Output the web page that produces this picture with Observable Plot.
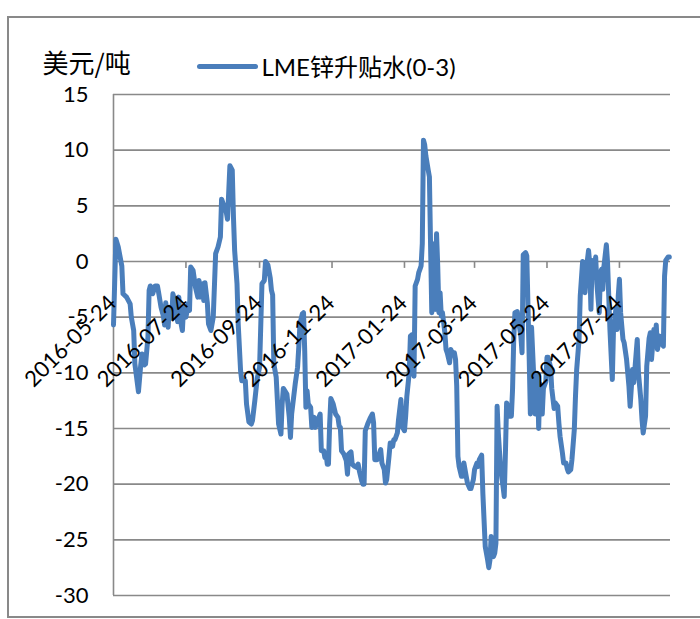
<!DOCTYPE html>
<html><head><meta charset="utf-8">
<script src="https://cdn.jsdelivr.net/npm/d3@7"></script>
<script src="https://cdn.jsdelivr.net/npm/@observablehq/plot@0.6"></script>
<style>
html,body{margin:0;padding:0;background:#fff;width:700px;height:619px;overflow:hidden;}
#wrap{position:relative;width:700px;height:619px;}
#wrap svg{position:absolute;left:0;top:0;background:transparent;}
#border{position:absolute;left:7px;top:16px;width:720px;height:602px;border:2px solid #898989;box-sizing:border-box;pointer-events:none;}
#swatch{position:absolute;left:197px;top:63.5px;width:61px;height:5.5px;border-radius:3px;background:#4A7EBB;}
</style>
</head><body>
<div id="wrap"><div id="border"></div><div id="swatch"></div></div>
<script>
const unitLabel = "美元/吨";
const seriesName = "LME锌升贴水(0-3)";
const yTicks = [-30, -25, -20, -15, -10, -5, 0, 5, 10, 15];
const xTickLabels = ["2016-05-24","2016-07-24","2016-09-24","2016-11-24","2017-01-24","2017-03-24","2017-05-24","2017-07-24"];
const xDomain = ["2016-05-24", "2017-09-05"];

const dates = [
"2016-05-24","2016-05-26","2016-05-28","2016-05-31","2016-06-01","2016-06-04","2016-06-07","2016-06-08","2016-06-10","2016-06-11",
"2016-06-14","2016-06-16","2016-06-17","2016-06-19","2016-06-20","2016-06-22","2016-06-23","2016-06-24","2016-06-26","2016-06-28",
"2016-06-30","2016-07-01","2016-07-03","2016-07-05","2016-07-06","2016-07-07","2016-07-09","2016-07-10","2016-07-12","2016-07-13",
"2016-07-15","2016-07-17","2016-07-18","2016-07-19","2016-07-21","2016-07-22","2016-07-24","2016-07-26","2016-07-27","2016-07-28",
"2016-07-30","2016-08-01","2016-08-03","2016-08-04","2016-08-05","2016-08-07","2016-08-08","2016-08-09","2016-08-11","2016-08-12",
"2016-08-14","2016-08-16","2016-08-18","2016-08-20","2016-08-22","2016-08-23","2016-08-25","2016-08-27","2016-08-28","2016-08-30",
"2016-09-01","2016-09-02","2016-09-03","2016-09-05","2016-09-06","2016-09-08","2016-09-09","2016-09-12","2016-09-13","2016-09-15",
"2016-09-17","2016-09-18","2016-09-20","2016-09-22","2016-09-24","2016-09-26","2016-09-28","2016-09-29","2016-10-01","2016-10-03",
"2016-10-04","2016-10-05","2016-10-06","2016-10-08","2016-10-09","2016-10-10","2016-10-12","2016-10-13","2016-10-14","2016-10-17",
"2016-10-19","2016-10-20","2016-10-21","2016-10-23","2016-10-24","2016-10-26","2016-10-27","2016-10-28","2016-10-30","2016-10-31",
"2016-11-01","2016-11-02","2016-11-03","2016-11-04","2016-11-06","2016-11-07","2016-11-09","2016-11-10","2016-11-11","2016-11-13",
"2016-11-14","2016-11-15","2016-11-17","2016-11-18","2016-11-19","2016-11-20","2016-11-21","2016-11-22","2016-11-23","2016-11-25",
"2016-11-27","2016-11-29","2016-11-30","2016-12-01","2016-12-02","2016-12-04","2016-12-06","2016-12-07","2016-12-08","2016-12-10",
"2016-12-11","2016-12-13","2016-12-15","2016-12-16","2016-12-17","2016-12-19","2016-12-20","2016-12-21","2016-12-22","2016-12-24",
"2016-12-26","2016-12-28","2016-12-29","2016-12-30","2017-01-01","2017-01-02","2017-01-04","2017-01-05","2017-01-07","2017-01-08",
"2017-01-09","2017-01-11","2017-01-12","2017-01-14","2017-01-15","2017-01-16","2017-01-18","2017-01-19","2017-01-21","2017-01-22",
"2017-01-24","2017-01-25","2017-01-26","2017-01-28","2017-01-29","2017-01-30","2017-01-31","2017-02-01","2017-02-02","2017-02-04",
"2017-02-05","2017-02-06","2017-02-07","2017-02-08","2017-02-09","2017-02-10","2017-02-11","2017-02-13","2017-02-14","2017-02-15",
"2017-02-16","2017-02-17","2017-02-18","2017-02-19","2017-02-20","2017-02-21","2017-02-22","2017-02-23","2017-02-24","2017-02-25",
"2017-02-27","2017-02-28","2017-03-01","2017-03-03","2017-03-04","2017-03-06","2017-03-07","2017-03-08","2017-03-09","2017-03-10",
"2017-03-11","2017-03-13","2017-03-14","2017-03-15","2017-03-17","2017-03-18","2017-03-20","2017-03-21","2017-03-23","2017-03-24",
"2017-03-26","2017-03-27","2017-03-28","2017-03-30","2017-03-31","2017-04-01","2017-04-02","2017-04-04","2017-04-05","2017-04-06",
"2017-04-07","2017-04-08","2017-04-09","2017-04-10","2017-04-11","2017-04-12","2017-04-13","2017-04-15","2017-04-17","2017-04-18",
"2017-04-19","2017-04-20","2017-04-21","2017-04-22","2017-04-24","2017-04-25","2017-04-26","2017-04-27","2017-04-29","2017-04-30",
"2017-05-02","2017-05-03","2017-05-04","2017-05-06","2017-05-07","2017-05-09","2017-05-10","2017-05-11","2017-05-13","2017-05-14",
"2017-05-16","2017-05-17","2017-05-18","2017-05-20","2017-05-21","2017-05-23","2017-05-24","2017-05-25","2017-05-27","2017-05-28",
"2017-05-30","2017-05-31","2017-06-02","2017-06-03","2017-06-04","2017-06-06","2017-06-07","2017-06-09","2017-06-10","2017-06-11",
"2017-06-13","2017-06-14","2017-06-16","2017-06-17","2017-06-18","2017-06-20","2017-06-21","2017-06-23","2017-06-24","2017-06-25",
"2017-06-27","2017-06-28","2017-06-29","2017-06-30","2017-07-01","2017-07-02","2017-07-04","2017-07-05","2017-07-07","2017-07-08",
"2017-07-09","2017-07-10","2017-07-11","2017-07-13","2017-07-14","2017-07-15","2017-07-16","2017-07-18","2017-07-19","2017-07-21",
"2017-07-22","2017-07-23","2017-07-24","2017-07-25","2017-07-27","2017-07-28","2017-07-30","2017-07-31","2017-08-01","2017-08-02",
"2017-08-04","2017-08-05","2017-08-06","2017-08-08","2017-08-09","2017-08-11","2017-08-12","2017-08-13","2017-08-15","2017-08-16",
"2017-08-18","2017-08-19","2017-08-20","2017-08-22","2017-08-23","2017-08-24","2017-08-25","2017-08-27","2017-08-28","2017-08-30",
"2017-08-31","2017-09-01","2017-09-03","2017-09-04"
];
const values = [
-5.7,2.0,1.3,-0.4,-2.9,-3.2,-3.8,-5.0,-6.2,-9.2,
-11.7,-9.2,-8.3,-9.3,-9.2,-6.8,-2.6,-2.2,-2.9,-2.2,
-2.2,-2.8,-4.1,-4.9,-5.7,-3.7,-5.9,-4.1,-5.1,-2.9,
-3.7,-5.4,-3.2,-5.1,-6.2,-4.1,-5.0,-3.8,-4.4,-0.5,
-0.8,-2.3,-3.2,-1.7,-3.2,-2.0,-3.5,-1.9,-3.7,-5.6,
-6.2,-5.0,0.7,1.3,2.2,5.6,5.0,4.4,3.8,8.6,
8.2,4.0,1.0,-2.0,-5.6,-9.8,-10.7,-10.7,-12.8,-14.4,
-14.6,-14.3,-12.5,-10.5,-9.5,-2.0,-1.7,0.0,-0.3,-1.5,
-2.6,-3.0,-9.2,-10.4,-12.5,-14.6,-15.5,-12.8,-11.4,-11.9,
-14.0,-15.8,-13.7,-11.9,-11.0,-9.5,-7.7,-5.6,-4.7,-4.6,
-8.0,-13.1,-11.6,-12.8,-13.1,-14.9,-14.0,-14.9,-14.3,-14.0,
-13.7,-17.0,-17.0,-17.6,-17.3,-18.2,-18.2,-14.6,-12.3,-12.8,
-13.7,-14.0,-14.8,-14.9,-17.0,-17.3,-17.9,-19.1,-17.3,-17.1,
-18.2,-18.4,-18.5,-18.2,-18.8,-19.7,-20.0,-20.0,-15.2,-14.6,
-14.1,-13.7,-14.5,-17.8,-17.8,-17.5,-16.9,-18.1,-18.7,-19.9,
-19.6,-17.5,-16.3,-16.6,-16.0,-16.0,-15.4,-14.2,-12.4,-14.8,
-15.2,-13.9,-12.1,-10.0,-6.7,-6.6,-6.8,-10.3,-2.2,-1.6,
-1.0,-0.7,-0.4,1.6,10.9,10.5,9.5,8.2,7.6,1.3,
-4.6,1.6,-3.1,-4.3,2.5,-0.4,-4.6,-2.8,-4.9,-4.6,
-6.4,-7.9,-8.2,-9.1,-7.9,-8.4,-8.2,-8.8,-11.2,-17.5,
-18.4,-19.3,-19.3,-18.1,-19.3,-19.9,-20.4,-20.4,-19.6,-18.7,
-18.1,-18.4,-17.8,-17.4,-20.8,-23.2,-25.6,-26.8,-27.5,-26.8,
-24.7,-26.3,-26.5,-26.2,-25.3,-13.0,-15.4,-18.7,-20.2,-21.1,
-17.2,-12.7,-13.0,-13.9,-13.9,-11.5,-7.0,-4.6,-4.5,-5.3,
-6.7,-8.2,0.6,0.8,0.5,-8.6,-13.7,-5.9,-10.7,-13.7,
-10.2,-15.0,-11.0,-13.7,-11.4,-10.8,-8.6,-8.6,-9.5,-11.4,
-13.2,-12.7,-13.0,-14.5,-15.7,-17.2,-18.1,-18.1,-18.6,-18.9,
-18.7,-17.8,-15.1,-12.1,-9.7,-7.0,-3.1,0.0,-0.1,-2.8,
0.1,1.0,-0.2,-4.3,0.1,-1.4,0.4,-2.0,-4.6,-1.0,
-0.7,-2.5,-0.4,1.5,-0.1,-3.1,-6.1,-10.6,-6.1,-4.3,
-6.1,-3.1,-1.6,-4.6,-7.0,-7.3,-8.8,-10.0,-11.2,-13.0,
-9.7,-10.9,-9.7,-7.0,-10.0,-12.4,-14.2,-15.4,-13.9,-9.4,
-6.9,-6.4,-8.8,-6.1,-7.3,-5.7,-7.9,-6.7,-7.3,-7.6,
-1.3,0.1,0.4,0.4
];

const parse = s => new Date(s + "T00:00:00Z");
const data = dates.map((d, i) => ({date: parse(d), value: values[i]}));
const tickData = xTickLabels.map(s => ({date: parse(s), label: s}));

const gridColor = "#898989";
const latin = "Lato, 'Noto Sans CJK SC', sans-serif";

const chart = Plot.plot({
  width: 700,
  height: 619,
  marginLeft: 113,
  marginRight: 30,
  marginTop: 94,
  marginBottom: 24,
  style: {background: "transparent", fontFamily: latin, color: "#000"},
  x: {type: "utc", domain: xDomain.map(parse), axis: null},
  y: {domain: [-30, 15], axis: null},
  marks: [
    Plot.ruleY(yTicks, {stroke: gridColor, strokeWidth: 1.6}),
    Plot.ruleX([parse(xDomain[0])], {stroke: gridColor, strokeWidth: 1.6}),
    Plot.ruleX(tickData.slice(1), {x: "date", y1: 0, y2: -0.62, stroke: gridColor, strokeWidth: 1.6}),
    Plot.line(data, {x: "date", y: "value", stroke: "#4A7EBB", strokeWidth: 5, strokeLinejoin: "round", strokeLinecap: "round"}),
    Plot.text(yTicks, {y: d => d, text: d => String(d), frameAnchor: "left", textAnchor: "end", dx: -25, fontSize: 22, fill: "#000"}),
    Plot.text(tickData, {x: "date", y: 0, text: "label", rotate: -45, textAnchor: "end", lineAnchor: "bottom", dx: 4, dy: 43, fontSize: 22, fill: "#000"}),
    Plot.text([unitLabel], {text: d => d, frameAnchor: "top-left", textAnchor: "start", lineAnchor: "bottom", dx: -71, dy: -22, fontSize: 26, fontFamily: "'Noto Sans CJK SC', sans-serif", fill: "#000"}),
    Plot.text([seriesName], {text: d => d, frameAnchor: "top-left", textAnchor: "start", lineAnchor: "bottom", dx: 148, dy: -19, fontSize: 24, fill: "#000"})
  ]
});
document.getElementById("wrap").prepend(chart);
</script>
</body></html>
